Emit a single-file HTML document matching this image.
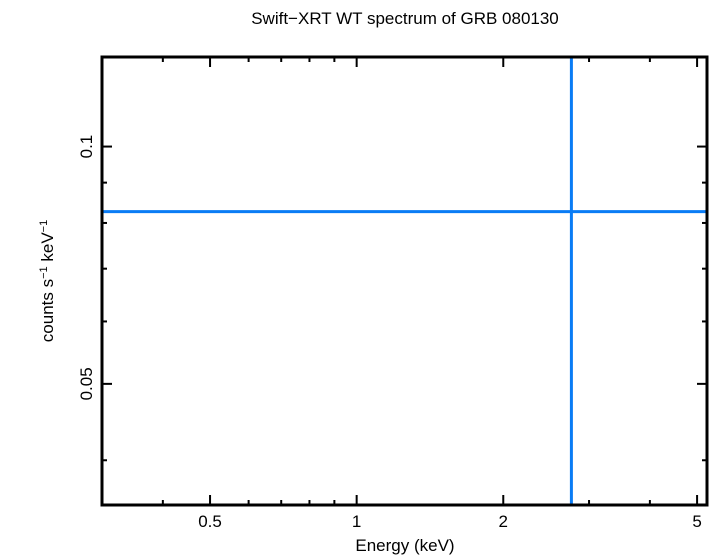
<!DOCTYPE html>
<html><head><meta charset="utf-8"><style>
body{margin:0;background:#fff;}
svg{display:block;font-family:"Liberation Sans",sans-serif;}
</style></head><body>
<svg id="chart" width="715" height="556" viewBox="0 0 715 556">
<text x="405" y="24" text-anchor="middle" font-size="17">Swift−XRT WT spectrum of GRB 080130</text>
<g id="ticks"></g>
<g id="series"></g>
<rect x="102" y="57" width="605" height="448" fill="none" stroke="#000" stroke-width="3"/>
<text x="405" y="551" text-anchor="middle" font-size="17">Energy (keV)</text>
<text transform="translate(53,281) rotate(-90)" text-anchor="middle" font-size="17">counts s<tspan font-size="11" dy="-6">−1</tspan><tspan dy="6"> keV</tspan><tspan font-size="11" dy="-6">−1</tspan></text>
</svg>
<script>
const xMajorTicks=[0.5,1,2,5];
const xMajorLabels=["0.5","1","2","5"];
const xMinorTicks=[0.4,0.6,0.7,0.8,0.9,3,4];
const yMajorTicks=[0.1,0.05];
const yMajorLabels=["0.1","0.05"];
const yMinorTicks=[0.04,0.06,0.07,0.08,0.09];
const modelLevel=[0.0827];
const markerEnergy=[2.76];
const xMin=0.300,xMax=5.24,yMin=0.0351,yMax=0.1299;
const L=102,R=707,T=57,B=505;
const NS="http://www.w3.org/2000/svg";
function xs(v){return L+(Math.log10(v)-Math.log10(xMin))/(Math.log10(xMax)-Math.log10(xMin))*(R-L);}
function ys(v){return B-(Math.log10(v)-Math.log10(yMin))/(Math.log10(yMax)-Math.log10(yMin))*(B-T);}
function mk(tag,attrs,parent){const e=document.createElementNS(NS,tag);for(const k in attrs)e.setAttribute(k,attrs[k]);parent.appendChild(e);return e;}
const tg=document.getElementById('ticks'),sg=document.getElementById('series');
xMajorTicks.forEach((v,i)=>{const x=xs(v);
 let t=mk('line',{x1:x,x2:x,y1:B,y2:B-10,stroke:'#000','stroke-width':2},tg);
 
 t=mk('line',{x1:x,x2:x,y1:T,y2:T+10,stroke:'#000','stroke-width':2},tg);
 
 const l=mk('text',{x:x,y:527,'text-anchor':'middle','font-size':17},tg);l.textContent=xMajorLabels[i];
 });
xMinorTicks.forEach(v=>{const x=xs(v);if(x<L||x>R)return;
 let t=mk('line',{x1:x,x2:x,y1:B,y2:B-5,stroke:'#000','stroke-width':2},tg);
 
 t=mk('line',{x1:x,x2:x,y1:T,y2:T+5,stroke:'#000','stroke-width':2},tg);
 });
yMajorTicks.forEach((v,i)=>{const y=ys(v);
 let t=mk('line',{x1:L,x2:L+10,y1:y,y2:y,stroke:'#000','stroke-width':2},tg);
 
 t=mk('line',{x1:R,x2:R-10,y1:y,y2:y,stroke:'#000','stroke-width':2},tg);
 
 const l=mk('text',{transform:`translate(92,${y}) rotate(-90)`,'text-anchor':'middle','font-size':17},tg);l.textContent=yMajorLabels[i];
 });
yMinorTicks.forEach(v=>{const y=ys(v);
 let t=mk('line',{x1:L,x2:L+5,y1:y,y2:y,stroke:'#000','stroke-width':2},tg);
 
 t=mk('line',{x1:R,x2:R-5,y1:y,y2:y,stroke:'#000','stroke-width':2},tg);
 });
modelLevel.forEach(v=>{const y=ys(v);
 const l=mk('line',{x1:L,x2:R,y1:y,y2:y,stroke:'#0a7cf5','stroke-width':3},sg);
 });
markerEnergy.forEach(v=>{const x=xs(v);
 const l=mk('line',{x1:x,x2:x,y1:T,y2:B,stroke:'#0a7cf5','stroke-width':3},sg);
 });
</script>
</body></html>
